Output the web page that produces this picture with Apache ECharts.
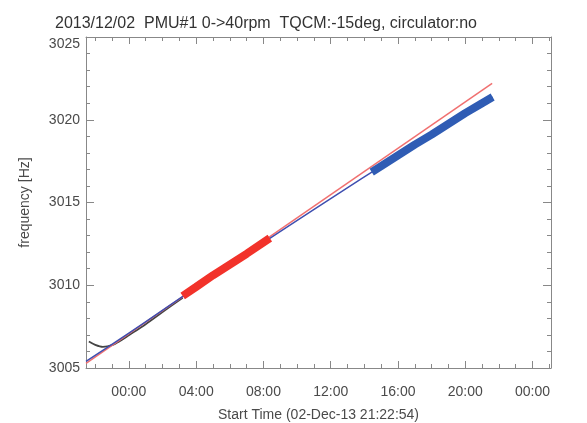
<!DOCTYPE html>
<html>
<head>
<meta charset="utf-8">
<script src="https://cdn.jsdelivr.net/npm/echarts@6/dist/echarts.min.js"></script>
<style>html,body{margin:0;padding:0;background:#fff}#c{width:587px;height:423px}</style>
</head>
<body>
<div id="c"></div>
<script>
// Hours relative to 00:00 on 03-Dec-13 (start time 21:22:54 on 02-Dec-13)
const xMin = -2.55, xMax = 25.1;
const majorX = [0, 4, 8, 12, 16, 20, 24];
const xTickLabels = ['00:00', '04:00', '08:00', '12:00', '16:00', '20:00', '00:00'];
const minorX = [-2, -1, 1, 2, 3, 5, 6, 7, 9, 10, 11, 13, 14, 15, 17, 18, 19, 21, 22, 23, 25];
const yTicks = [3005, 3010, 3015, 3020, 3025];

// black warm-up curve
const blackX = [-2.38, -2.0, -1.55, -1.0, -0.5, 0.0, 1.0, 2.0, 3.2];
const blackY = [3006.6, 3006.4, 3006.28, 3006.38, 3006.65, 3006.98, 3007.65, 3008.38, 3009.25];
// red fit line (straight)
const redFitX = [-2.55, 21.6];
const redFitY = [3005.28, 3022.2];
// blue fit line
const blueFitX = [-2.55, 0, 4, 8, 12, 16, 20, 21.63];
const blueFitY = [3005.4, 3007.1, 3009.87, 3012.58, 3015.24, 3017.83, 3020.36, 3021.37];
// red measured data
const redX = [3.2, 4.0, 5.0, 6.0, 7.0, 8.38];
const redY = [3009.35, 3009.9, 3010.6, 3011.25, 3011.9, 3012.85];
// blue measured data
const blueX = [14.44, 15, 16, 17, 18, 19, 20, 21, 21.63];
const blueY = [3016.84, 3017.2, 3017.85, 3018.5, 3019.1, 3019.75, 3020.4, 3021.0, 3021.37];

const zip = (a, b) => a.map((v, i) => [v, b[i]]);
const frame = '#888888';
const txt = '#4a4a4a';
const font = 'Liberation Sans';

function xAx(pos, ticks, len, showLine, labels) {
  return {
    type: 'value', position: pos, min: xMin, max: xMax, gridIndex: 0,
    axisLine: { show: showLine, onZero: false, lineStyle: { color: frame, width: 1 } },
    axisTick: { show: true, inside: true, length: len, customValues: ticks, lineStyle: { color: frame, width: 1 } },
    axisLabel: labels ? {
      show: true, customValues: majorX, margin: 17, color: txt, fontSize: 14, fontFamily: font,
      formatter: v => xTickLabels[majorX.indexOf(v)]
    } : { show: false },
    splitLine: { show: false }, minorTick: { show: false }
  };
}
function yAx(pos, labels) {
  return {
    type: 'value', position: pos, min: yTicks[0], max: yTicks[yTicks.length - 1], interval: 5,
    axisLine: { show: true, onZero: false, lineStyle: { color: frame, width: 1 } },
    axisTick: { show: true, inside: true, length: 8, lineStyle: { color: frame } },
    minorTick: { show: true, splitNumber: 5, length: 4, lineStyle: { color: frame } },
    axisLabel: labels ? { show: true, margin: 6, color: txt, fontSize: 14, fontFamily: font,
      verticalAlignMaxLabel: 'top', formatter: v => String(v) } : { show: false },
    splitLine: { show: false },
    name: labels ? 'frequency [Hz]' : '', nameLocation: 'middle', nameGap: 54,
    nameTextStyle: { color: txt, fontSize: 14, fontFamily: font }
  };
}
const bottomMajor = xAx('bottom', majorX, 7, true, true);
bottomMajor.name = 'Start Time (02-Dec-13 21:22:54)';
bottomMajor.nameLocation = 'middle';
bottomMajor.nameGap = 40;
bottomMajor.nameTextStyle = { color: txt, fontSize: 14, fontFamily: font };

const option = {
  animation: false,
  backgroundColor: '#fff',
  title: {
    text: '2013/12/02  PMU#1 0->40rpm  TQCM:-15deg, circulator:no',
    left: 50, top: 11,
    textStyle: { color: '#333', fontSize: 16, fontWeight: 'normal', fontFamily: font }
  },
  grid: { left: 86, right: 36, top: 37, bottom: 55, containLabel: false, outerBoundsMode: 'none' },
  xAxis: [
    bottomMajor,
    xAx('bottom', minorX, 4, false, false),
    xAx('top', majorX, 7, true, false),
    xAx('top', minorX, 4, false, false)
  ],
  yAxis: [yAx('left', true), yAx('right', false)],
  series: [
    { type: 'line', data: zip(blackX, blackY), smooth: 0.3, showSymbol: false,
      lineStyle: { color: '#444', width: 1.8 }, z: 2 },
    { type: 'line', data: zip(redFitX, redFitY), showSymbol: false,
      lineStyle: { color: '#f07070', width: 1.5 }, z: 3 },
    { type: 'line', data: zip(blueFitX, blueFitY), smooth: true, showSymbol: false,
      lineStyle: { color: '#3f4fb0', width: 1.5 }, z: 4 },
    { type: 'line', data: zip(redX, redY), showSymbol: false,
      lineStyle: { color: '#f2322a', width: 8, cap: 'butt' }, z: 5 },
    { type: 'line', data: zip(blueX, blueY), showSymbol: false,
      lineStyle: { color: '#2f5cb4', width: 8, cap: 'butt' }, z: 5 }
  ]
};
echarts.init(document.getElementById('c'), null, { renderer: 'canvas' }).setOption(option);
</script>
</body>
</html>
